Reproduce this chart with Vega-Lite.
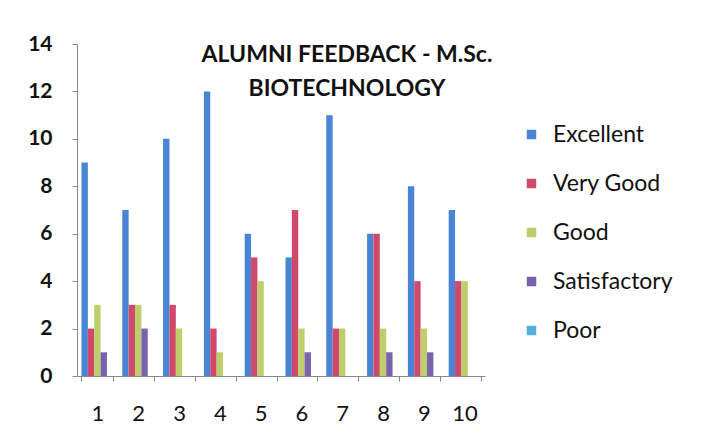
{
  "$schema": "https://vega.github.io/schema/vega-lite/v6.json",
  "width": 408,
  "height": 332,
  "autosize": {"type": "none"},
  "padding": {"left": 77, "top": 44, "right": 217, "bottom": 56},
  "background": "white",
  "title": {
    "text": ["ALUMNI FEEDBACK - M.Sc.", "BIOTECHNOLOGY"],
    "font": "Lato",
    "fontSize": 23,
    "fontWeight": "bold",
    "color": "#111111",
    "anchor": "middle",
    "frame": "group",
    "baseline": "top",
    "lineHeight": 34,
    "offset": -68,
    "dx": 66
  },
  "data": {
    "values": [
      {"q": "1", "rating": "Excellent", "count": 9},
      {"q": "1", "rating": "Very Good", "count": 2},
      {"q": "1", "rating": "Good", "count": 3},
      {"q": "1", "rating": "Satisfactory", "count": 1},
      {"q": "1", "rating": "Poor", "count": 0},
      {"q": "2", "rating": "Excellent", "count": 7},
      {"q": "2", "rating": "Very Good", "count": 3},
      {"q": "2", "rating": "Good", "count": 3},
      {"q": "2", "rating": "Satisfactory", "count": 2},
      {"q": "2", "rating": "Poor", "count": 0},
      {"q": "3", "rating": "Excellent", "count": 10},
      {"q": "3", "rating": "Very Good", "count": 3},
      {"q": "3", "rating": "Good", "count": 2},
      {"q": "3", "rating": "Satisfactory", "count": 0},
      {"q": "3", "rating": "Poor", "count": 0},
      {"q": "4", "rating": "Excellent", "count": 12},
      {"q": "4", "rating": "Very Good", "count": 2},
      {"q": "4", "rating": "Good", "count": 1},
      {"q": "4", "rating": "Satisfactory", "count": 0},
      {"q": "4", "rating": "Poor", "count": 0},
      {"q": "5", "rating": "Excellent", "count": 6},
      {"q": "5", "rating": "Very Good", "count": 5},
      {"q": "5", "rating": "Good", "count": 4},
      {"q": "5", "rating": "Satisfactory", "count": 0},
      {"q": "5", "rating": "Poor", "count": 0},
      {"q": "6", "rating": "Excellent", "count": 5},
      {"q": "6", "rating": "Very Good", "count": 7},
      {"q": "6", "rating": "Good", "count": 2},
      {"q": "6", "rating": "Satisfactory", "count": 1},
      {"q": "6", "rating": "Poor", "count": 0},
      {"q": "7", "rating": "Excellent", "count": 11},
      {"q": "7", "rating": "Very Good", "count": 2},
      {"q": "7", "rating": "Good", "count": 2},
      {"q": "7", "rating": "Satisfactory", "count": 0},
      {"q": "7", "rating": "Poor", "count": 0},
      {"q": "8", "rating": "Excellent", "count": 6},
      {"q": "8", "rating": "Very Good", "count": 6},
      {"q": "8", "rating": "Good", "count": 2},
      {"q": "8", "rating": "Satisfactory", "count": 1},
      {"q": "8", "rating": "Poor", "count": 0},
      {"q": "9", "rating": "Excellent", "count": 8},
      {"q": "9", "rating": "Very Good", "count": 4},
      {"q": "9", "rating": "Good", "count": 2},
      {"q": "9", "rating": "Satisfactory", "count": 1},
      {"q": "9", "rating": "Poor", "count": 0},
      {"q": "10", "rating": "Excellent", "count": 7},
      {"q": "10", "rating": "Very Good", "count": 4},
      {"q": "10", "rating": "Good", "count": 4},
      {"q": "10", "rating": "Satisfactory", "count": 0},
      {"q": "10", "rating": "Poor", "count": 0}
    ]
  },
  "mark": {"type": "bar", "stroke": null},
  "encoding": {
    "x": {
      "field": "q",
      "type": "nominal",
      "sort": ["1", "2", "3", "4", "5", "6", "7", "8", "9", "10"],
      "scale": {"paddingInner": 0.22, "paddingOuter": 0.11},
      "axis": {
        "title": null,
        "labelAngle": 0,
        "labelFont": "Lato",
        "labelFontSize": 22,
        "labelColor": "#111111",
        "labelPadding": 22,
        "tickBand": "extent",
        "tickSize": 5,
        "tickColor": "#888888",
        "domainColor": "#888888",
        "grid": false
      }
    },
    "xOffset": {
      "field": "rating",
      "type": "nominal",
      "sort": ["Excellent", "Very Good", "Good", "Satisfactory", "Poor"],
      "scale": {"paddingInner": 0, "paddingOuter": 0}
    },
    "y": {
      "field": "count",
      "type": "quantitative",
      "scale": {"domain": [0, 14]},
      "axis": {
        "title": null,
        "values": [0, 2, 4, 6, 8, 10, 12, 14],
        "labelFont": "Lato",
        "labelFontSize": 21,
        "labelFontWeight": "bold",
        "labelColor": "#111111",
        "labelPadding": 20,
        "tickSize": 5,
        "tickColor": "#888888",
        "domainColor": "#888888",
        "grid": false
      }
    },
    "color": {
      "field": "rating",
      "type": "nominal",
      "sort": ["Excellent", "Very Good", "Good", "Satisfactory", "Poor"],
      "scale": {
        "domain": ["Excellent", "Very Good", "Good", "Satisfactory", "Poor"],
        "range": ["#4a84d4", "#d0486a", "#bccf6a", "#7b62ae", "#52b0e0"]
      },
      "legend": {
        "title": null,
        "orient": "none",
        "legendX": 443,
        "legendY": 79,
        "symbolType": "square",
        "symbolSize": 90,
        "symbolStrokeWidth": 0,
        "labelFont": "Lato",
        "labelFontSize": 23,
        "labelColor": "#111111",
        "labelOffset": 10,
        "rowPadding": 25
      }
    }
  },
  "config": {
    "view": {"stroke": null}
  }
}
